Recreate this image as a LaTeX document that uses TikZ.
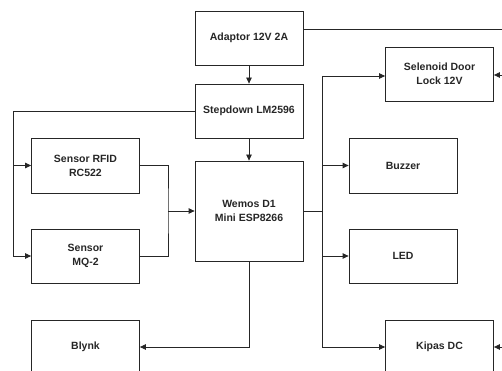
\documentclass[tikz,border=0pt]{standalone}
\usepackage{fontspec}
\setmainfont{Liberation Sans}
\usetikzlibrary{arrows.meta}
\begin{document}
\begin{tikzpicture}[x=1pt,y=-1pt,
  blk/.style={draw=black!85,line width=0.8pt,minimum width=108pt,minimum height=54pt,inner sep=0pt,align=center,font=\fontsize{10.5}{14}\selectfont\bfseries,text=black!85},
  conn/.style={draw=black!85,line width=0.8pt},
  arr/.style={conn,-{Triangle[length=6pt,width=5.5pt]}}]
\useasboundingbox (0,0) rectangle (502,371);
\node[blk] (adaptor) at (249,38) {Adaptor 12V 2A};
\node[blk] (step) at (249,111) {Stepdown LM2596};
\node[blk,minimum height=100pt] (wemos) at (249,211) {Wemos D1\\Mini ESP8266};
\node[blk,minimum height=55pt] (rfid) at (85.5,165.5) {Sensor RFID\\RC522};
\node[blk] (mq) at (85.5,256) {Sensor\\MQ-2};
\node[blk] (blynk) at (85.5,347) {Blynk};
\node[blk] (sel) at (439.5,74) {Selenoid Door\\Lock 12V};
\node[blk,minimum height=55pt] (buz) at (403,165.5) {Buzzer};
\node[blk] (led) at (403,256) {LED};
\node[blk] (kipas) at (439.5,347) {Kipas DC};
% power
\draw[arr] (adaptor) -- (step);
\draw[arr] (step) -- (wemos);
\coordinate (ltop) at (13,111);
\coordinate (lbot) at (13,256);
\draw[conn] (step.west) -- (ltop) -- (lbot);
\draw[arr] (lbot) -- (mq.west);
\draw[arr] (13,165.5) -- (rfid.west);
% sensors to wemos
\coordinate (sj) at (168,211);
\draw[conn] (rfid.east) -| (sj) |- (mq.east);
\draw[arr] (sj) -- (wemos.west);
% wemos outputs
\coordinate (rj) at (322,211);
\draw[conn] (wemos.east) -- (rj);
\draw[conn] (322,76) -- (322,347);
\draw[arr] (322,76) -- (sel.west |- 0,76);
\draw[arr] (322,165.5) -- (buz.west);
\draw[arr] (322,256) -- (led.west);
\draw[arr] (322,347) -- (kipas.west);
\draw[arr] (wemos.south) |- (blynk.east);
% adaptor 12V line
\coordinate (rt) at (515,29);
\coordinate (rb) at (515,347);
\draw[conn] (adaptor.east |- 0,29) -- (rt) -- (rb);
\draw[arr] (rb) -- (kipas.east);
\draw[arr] (515,75) -- (sel.east |- 0,75);
\end{tikzpicture}
\end{document}
